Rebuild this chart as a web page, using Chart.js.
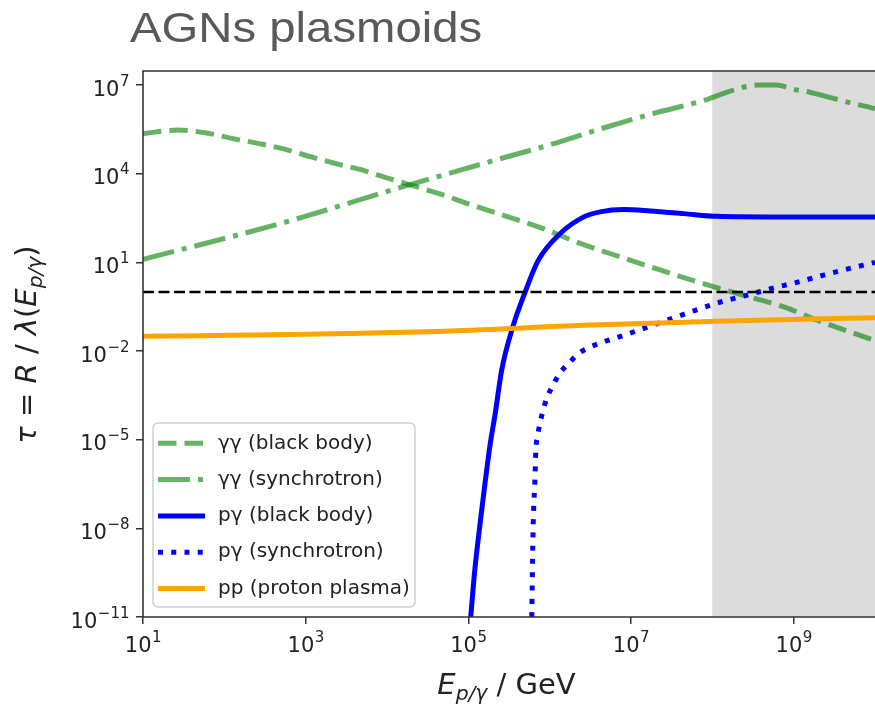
<!DOCTYPE html>
<html><head><meta charset="utf-8">
<script src="https://cdn.jsdelivr.net/npm/chart.js@4.4.1/dist/chart.umd.min.js"></script>
<style>html,body{margin:0;padding:0;background:#fff;} #wrap{width:875px;height:705px;}</style>
</head><body><div id="wrap"><canvas id="c" width="875" height="705"></canvas></div>
<script>
// ---------- data ----------
const chartTitle = 'AGNs plasmoids';
const xTickValues = [1e1, 1e3, 1e5, 1e7, 1e9];
const xTickExponents = ['1', '3', '5', '7', '9'];
const yTickValues = [1e-11, 1e-8, 1e-5, 1e-2, 1e1, 1e4, 1e7];
const yTickExponents = ['−11', '−8', '−5', '−2', '1', '4', '7'];
const tickBase = '10';
const xRange = [1e1, 1e10];
const yRange = [1e-11, 3e7];
const shadedRange = [1e8, 1e10];
const seriesNames = ['γγ (black body)', 'γγ (synchrotron)', 'pγ (black body)', 'pγ (synchrotron)', 'pp (proton plasma)'];

// γγ (black body)
const ggBbE   = [10, 26.9, 60.3, 123, 257, 550, 1175, 2512, 5370, 1.07e4, 2.34e4, 4.68e4, 9.55e4, 2.14e5, 8.3e5, 2.14e6, 5.5e6, 1.74e7, 7.76e7, 2.0e8, 7.6e8, 1.95e9, 8.7e9, 1e10];
const ggBbTau = [2.29e5, 3.02e5, 2.4e5, 1.58e5, 1.07e5, 6.8e4, 3.7e4, 2.1e4, 1.26e4, 6.8e3, 3.6e3, 2.0e3, 1.0e3, 480, 140, 49, 20, 7.1, 1.9, 0.89, 0.31, 0.11, 0.026, 0.023];
// γγ (synchrotron)
const ggSyE   = [10, 575, 1.12e4, 2.24e5, 9.77e5, 4.37e6, 1.9e7, 8.1e7, 1.82e8, 3.55e8, 6.17e8, 1e9, 1.58e9, 3.09e9, 5.01e9, 7.94e9, 1e10];
const ggSyTau = [12.6, 234, 2750, 3.0e4, 9.3e4, 3.4e5, 1.1e6, 3.1e6, 6.8e6, 1.0e7, 1.0e7, 7.2e6, 5.75e6, 3.55e6, 2.5e6, 1.86e6, 1.58e6];
// pγ (black body)
const pgBbE   = [1.07e5, 1.2e5, 1.41e5, 1.62e5, 1.86e5, 2.14e5, 2.57e5, 3.47e5, 5.0e5, 7.24e5, 1.35e6, 2.63e6, 4.17e6, 8.1e6, 1.74e7, 4.47e7, 1.15e8, 4.7e8, 3.1e9, 1e10];
const pgBbTau = [1e-11, 3.8e-10, 1.86e-8, 4.2e-7, 7.4e-6, 7.6e-5, 2.24e-3, 5.75e-2, 1.0, 11.7, 95.5, 347, 513, 617, 550, 447, 363, 347, 347, 347];
// pγ (synchrotron)
const pgSyE   = [6.03e5, 6.17e5, 6.31e5, 6.61e5, 6.76e5, 7.08e5, 7.59e5, 8.32e5, 9.33e5, 1.1e6, 1.32e6, 1.7e6, 2.24e6, 3.16e6, 4.57e6, 6.76e6, 1.35e7, 2.75e7, 5.9e7, 1.26e8, 2.69e8, 5.37e8, 1.15e9, 2.34e9, 4.79e9, 1e10];
const pgSyTau = [1e-11, 1.07e-9, 2.4e-8, 5.5e-7, 4.4e-6, 1.23e-5, 3.5e-5, 1e-4, 2.75e-4, 6.9e-4, 1.74e-3, 3.7e-3, 8.1e-3, 1.38e-2, 2.04e-2, 2.88e-2, 5.5e-2, 0.11, 0.23, 0.457, 0.776, 1.32, 2.19, 3.72, 6.17, 10];
// pp (proton plasma)
const ppE   = [10, 1000, 6.0e4, 2.63e6, 1.15e8, 1e10];
const ppTau = [0.0316, 0.0372, 0.0479, 0.0741, 0.102, 0.135];
// τ = 1 reference line
const unityE   = [10, 1e10];
const unityTau = [1, 1];

// ---------- build ----------
const pts = (es, ts) => es.map((e, i) => ({x: e, y: ts[i]}));
const green = 'rgba(0,128,0,0.6)';
const series = [
  {label: seriesNames[0], data: pts(ggBbE, ggBbTau), borderColor: green, borderDash: [18.5, 8]},
  {label: seriesNames[1], data: pts(ggSyE, ggSyTau), borderColor: green, borderDash: [32, 8, 5, 8]},
  {label: seriesNames[2], data: pts(pgBbE, pgBbTau), borderColor: '#0000ff', borderDash: []},
  {label: seriesNames[3], data: pts(pgSyE, pgSyTau), borderColor: '#0000ff', borderDash: [5, 8.25]},
  {label: seriesNames[4], data: pts(ppE, ppTau), borderColor: '#ffa500', borderDash: []},
];
const N = series.length;
const datasets = series.map((s, i) => Object.assign({
  borderWidth: 5, pointRadius: 0, fill: false, cubicInterpolationMode: 'monotone',
  borderCapStyle: 'butt', clip: 0, order: N + 1 - i
}, s));
datasets.push({label: 'τ = 1', data: pts(unityE, unityTau), borderColor: '#000', borderWidth: 2.5,
  borderDash: [11, 4.5], pointRadius: 0, fill: false, clip: 0, order: 0, inLegend: false});

const FONT = '"DejaVu Sans"';
function drawMath(ctx, parts, size, cx, by) {
  const subSize = size * 0.7, subDrop = size * 0.22;
  const fontFor = p => `${p.it ? 'italic ' : ''}${p.sub ? subSize : size}px ${FONT}`;
  let total = 0;
  const widths = parts.map(p => { ctx.font = fontFor(p); const w = ctx.measureText(p.t).width; total += w; return w; });
  let x = cx - total / 2;
  ctx.textAlign = 'left'; ctx.textBaseline = 'alphabetic';
  parts.forEach((p, i) => { ctx.font = fontFor(p); ctx.fillText(p.t, x, by + (p.sub ? subDrop : 0)); x += widths[i]; });
}
// "10^e" tick label; anchor: 'center' (x axis) or 'right' (y axis)
function drawPow(ctx, exp, ax, baseY, anchor) {
  const bs = 21, es = 15;
  ctx.font = `${bs}px ${FONT}`; const wb = ctx.measureText(tickBase).width;
  ctx.font = `${es}px ${FONT}`; const we = ctx.measureText(exp).width;
  const w = wb + we;
  const x0 = anchor === 'center' ? ax - w / 2 : ax - w;
  ctx.textAlign = 'left'; ctx.textBaseline = 'alphabetic';
  ctx.font = `${bs}px ${FONT}`; ctx.fillText(tickBase, x0, baseY);
  ctx.font = `${es}px ${FONT}`; ctx.fillText(exp, x0 + wb + 0.5, baseY - 10);
}

const decor = {
  id: 'decor',
  beforeDatasetsDraw(chart) {
    const {ctx, chartArea: a, scales: {x}} = chart;
    const x0 = Math.max(a.left, x.getPixelForValue(shadedRange[0]));
    const x1 = Math.min(a.right, x.getPixelForValue(shadedRange[1]));
    ctx.save(); ctx.fillStyle = '#dcdcdc'; ctx.fillRect(x0, a.top, x1 - x0, a.bottom - a.top); ctx.restore();
  },
  afterDraw(chart) {
    const {ctx, chartArea: a, scales} = chart;
    ctx.save();
    // spines
    ctx.strokeStyle = '#333'; ctx.lineWidth = 1.6;
    ctx.beginPath();
    ctx.moveTo(a.right + 2, a.top); ctx.lineTo(a.left, a.top); ctx.lineTo(a.left, a.bottom); ctx.lineTo(a.right + 2, a.bottom);
    ctx.stroke();
    // tick labels from the library's scales
    ctx.fillStyle = '#222';
    xTickValues.forEach((v, i) => drawPow(ctx, xTickExponents[i], scales.x.getPixelForValue(v), 652, 'center'));
    yTickValues.forEach((v, i) => drawPow(ctx, yTickExponents[i], 129, scales.y.getPixelForValue(v) + 10.5, 'right'));
    // legend
    const lx = 153, ly = 423, lw = 262, lh = 184, r = 5;
    ctx.beginPath();
    ctx.roundRect(lx, ly, lw, lh, r);
    ctx.fillStyle = 'rgba(255,255,255,0.8)'; ctx.fill();
    ctx.strokeStyle = '#cfcfcf'; ctx.lineWidth = 1.5; ctx.stroke();
    const items = chart.data.datasets.filter(d => d.inLegend !== false);
    items.forEach((d, i) => {
      const yy = 443.3 + i * 36.3;
      ctx.beginPath(); ctx.setLineDash(d.borderDash || []); ctx.lineCap = 'butt';
      ctx.strokeStyle = d.borderColor; ctx.lineWidth = d.borderWidth;
      ctx.moveTo(158, yy); ctx.lineTo(205, yy); ctx.stroke();
      ctx.setLineDash([]);
      ctx.fillStyle = '#222'; ctx.font = `20px ${FONT}`; ctx.textAlign = 'left'; ctx.textBaseline = 'middle';
      ctx.fillText(d.label, 218, yy);
    });
    // axis titles
    ctx.fillStyle = '#222';
    drawMath(ctx, [{t: 'E', it: 1}, {t: 'p/γ', it: 1, sub: 1}, {t: ' / GeV'}], 29, 506.5, 694);
    ctx.save();
    ctx.translate(36, 344.5); ctx.rotate(-Math.PI / 2);
    drawMath(ctx, [{t: 'τ', it: 1}, {t: ' = '}, {t: 'R', it: 1}, {t: ' / '}, {t: 'λ', it: 1}, {t: '('},
      {t: 'E', it: 1}, {t: 'p/γ', it: 1, sub: 1}, {t: ')'}], 29, 0, 0);
    ctx.restore();
    // chart title
    ctx.save();
    ctx.translate(130, 42); ctx.scale(1.1, 1);
    ctx.fillStyle = '#595959'; ctx.font = '43px "Liberation Sans"'; ctx.textAlign = 'left'; ctx.textBaseline = 'alphabetic';
    ctx.fillText(chartTitle, 0, 0);
    ctx.restore();
    ctx.restore();
  }
};

Chart.defaults.font.family = FONT;
new Chart(document.getElementById('c'), {
  type: 'line',
  data: {datasets},
  plugins: [decor],
  options: {
    responsive: false, animation: false, devicePixelRatio: 1,
    layout: {padding: {top: 71, left: 0, right: 0, bottom: 0}},
    plugins: {legend: {display: false}, title: {display: false}, tooltip: {enabled: false}},
    scales: {
      x: {
        type: 'logarithmic', min: xRange[0], max: xRange[1],
        afterBuildTicks: s => { s.ticks = xTickValues.map(v => ({value: v})); },
        afterFit: s => { s.height = 88; },
        border: {display: false},
        grid: {drawOnChartArea: false, drawTicks: true, tickLength: 7, color: '#333', lineWidth: 1.5},
        ticks: {display: false, autoSkip: false}
      },
      y: {
        type: 'logarithmic', min: yRange[0], max: yRange[1],
        afterBuildTicks: s => { s.ticks = yTickValues.map(v => ({value: v})); },
        afterFit: s => { s.width = 143; },
        border: {display: false},
        grid: {drawOnChartArea: false, drawTicks: true, tickLength: 7, color: '#333', lineWidth: 1.5},
        ticks: {display: false, autoSkip: false}
      }
    }
  }
});
</script></body></html>
